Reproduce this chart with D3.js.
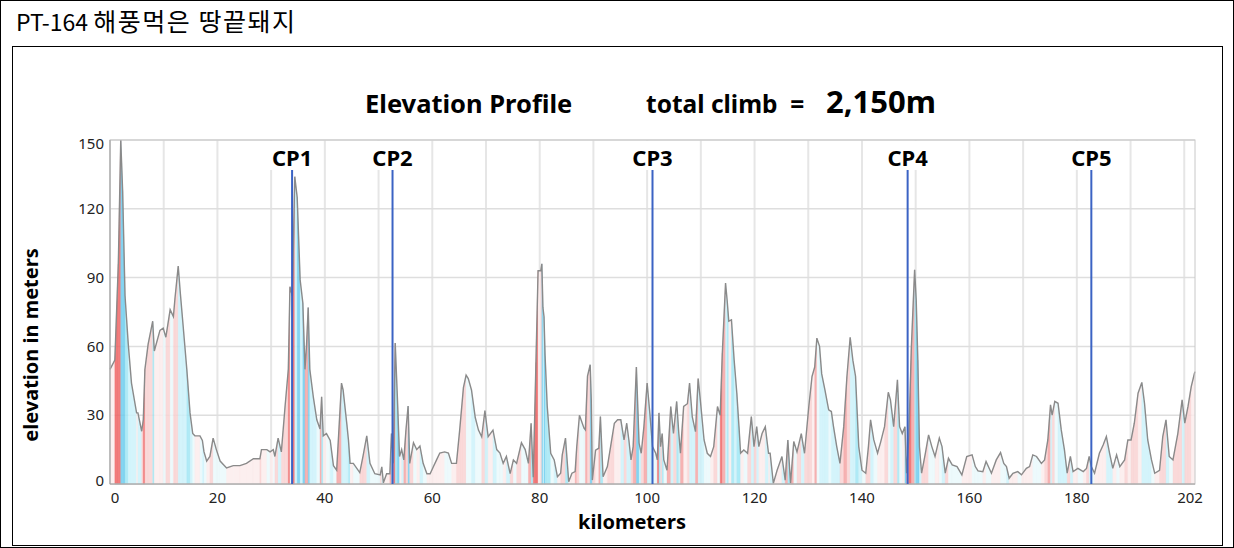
<!DOCTYPE html>
<html><head><meta charset="utf-8">
<script src="https://cdn.jsdelivr.net/npm/d3@7"></script>
<style>
body{margin:0;background:#fff;}
svg{display:block;font-family:"Noto Sans","Open Sans",sans-serif;}
</style></head><body>
<svg id="c" width="1234" height="548"></svg>
<script>
// ---- data ----
const pageTitleLatin = "PT-164 ";
const pageTitleKorean = "해풍먹은 땅끝돼지";
const chartTitle = "Elevation Profile";
const climbLabel = "total climb  =";
const climbValue = "2,150m";
const xTitle = "kilometers";
const yTitle = "elevation in meters";

const kms = [0,0.9,1.55,2.0,2.35,2.8,3.4,4.0,4.95,5.2,5.9,6.2,6.5,7.1,7.95,8.25,9.3,9.9,10.4,11.2,11.8,12.1,12.7,13.1,13.65,14.3,14.9,15.4,15.8,16.75,17.2,17.5,18.0,18.6,19.2,19.8,20.5,21.7,22.95,24.2,25.4,26.7,27.9,28.2,29.2,29.8,30.4,30.7,31.3,31.9,32.6,33.2,33.5,33.95,34.4,34.85,35.4,35.9,36.3,36.6,36.9,37.2,37.85,38.5,39.1,39.4,39.7,40.3,41.0,41.6,42.2,43.1,43.4,44.1,44.4,44.7,45.3,46.5,47.1,47.8,48.4,49.3,50.3,50.6,50.9,51.5,52.1,52.4,52.75,53.1,53.5,53.9,54.3,54.7,55.1,55.5,55.8,56.5,57.1,57.7,58.3,59.0,59.6,60.2,60.8,61.4,62.3,63.0,63.6,64.5,65.1,65.8,66.3,66.7,67.3,68.0,68.6,69.2,69.8,70.4,71.3,72.0,72.6,73.2,73.8,74.5,75.1,75.7,76.6,77.3,77.9,78.4,78.8,79.3,79.7,80.2,80.4,80.6,80.8,81.0,81.4,82.05,82.7,83.3,83.9,84.2,84.8,85.4,86.0,86.6,86.9,87.4,88.25,88.5,88.9,89.4,89.6,89.8,90.4,91.0,91.3,91.8,92.6,93.2,93.9,94.5,95.1,95.7,96.2,96.6,97.0,97.4,98.0,98.5,98.9,99.4,100.0,100.5,101.0,101.6,101.9,102.2,102.5,102.8,103.1,103.7,104.4,104.9,105.5,105.9,106.2,106.8,107.5,107.9,108.4,109.0,109.5,109.9,110.6,111.2,111.8,112.4,113.1,113.6,114.0,114.6,114.9,115.2,115.7,116.2,116.7,117.1,117.4,118.0,118.7,119.4,119.9,120.4,120.8,121.4,122.0,122.6,122.9,123.5,124.2,125.1,125.7,126.2,126.7,127.3,127.9,128.7,129.3,130.1,130.7,131.2,131.6,132.1,132.5,133.1,133.8,134.3,134.7,135.3,135.9,136.6,137.2,137.8,138.3,138.8,139.4,140.0,140.7,141.2,141.6,142.2,142.9,143.5,144.2,144.9,145.3,145.9,146.6,147.0,147.5,148.0,148.3,148.7,149.2,149.8,150.1,150.4,150.7,151.1,151.8,152.4,153.0,153.6,154.4,154.9,155.5,156.1,156.8,157.7,158.6,159.5,160.5,161.1,161.6,162.5,163.1,164.1,165.0,165.8,166.4,166.9,167.4,168.1,169.0,169.7,170.6,171.2,171.8,172.5,173.4,174.0,174.6,175.1,175.4,175.9,176.5,177.1,177.7,178.2,178.8,179.3,180.2,181.2,181.8,182.3,182.7,183.3,184.2,184.9,185.5,186.1,186.7,187.4,188.0,188.9,189.5,190.1,190.7,191.4,192.1,192.6,193.2,193.9,194.5,195.4,196.0,196.6,197.2,197.9,198.8,199.6,200.1,200.7,201.3,201.9,202.0];
const elevs = [50,54,96,150,128,82,61,44,31,31,23,28,50,61,71,58,67,68,64,76,73,81,95,83,68,50,31,22,21,21,19,14,10,12,20,15,10,7,8,8,9,11,11,15,15,14,15,12,20,14,34,50,86,82,134,125,89,79,50,61,77,50,38,28,24,38,21,22,19,8,6,44,41,26,19,9,9,5,12,21,9,4.5,4,7.5,0.5,4.5,4.5,22,9,61.5,38,12,15,10.5,23.5,34,9,18,15,16.6,9,4.5,4.5,7.5,10.5,13.5,14,13.5,9,9,23.5,42,47.5,46,41,29,23.5,20.6,32,20.6,23.5,15,13.5,9,12,4.5,10.5,9,18,15,9,26.5,3,53,93,93,96,77,73,56,34,13.4,10.5,3.2,4.7,12.7,20,1,4.7,5.4,16.3,30,24.3,23.6,47,52,36.7,1.7,14.8,15.6,29.4,3.2,7.6,16.3,26.5,28,28,19.2,26.5,19.2,10.5,16.3,51,17.8,13.4,25,44,31,16.3,13.4,10.5,31,16.3,22,10.5,6,33.8,22,36,22,13.4,33.8,35,44,29.4,22.8,46,36.7,19.2,13.4,12,16.3,33.8,30,57,87.6,80,71,71.6,54,39.6,25,13.4,14.8,13.4,29.4,16.3,25,16.3,22,25,13.4,13.4,0.3,6,12,1.7,19.2,0.3,18.5,14,22,13.4,33.8,46.9,51,63.6,60,48,41,32.3,31.6,25,16.3,9,25,46.9,64,54,47,16.3,6,4.7,16.3,28,19.2,13.4,18.5,25,40,36.7,25,45.4,25,22,25,4.7,19.2,60,93.4,80,54,16.3,4.7,13.4,21.4,16.3,12,20,16.3,4.7,11.2,8.3,7.6,4,12,12.7,7.6,5.7,5.4,9.8,4.7,10.5,13.7,9,7.6,2.5,4.7,5.4,4,6.8,7.6,12.7,12,9,10.5,19.2,34.5,30,36,35.2,23.6,14.8,4.7,12,5.4,6.8,5.4,6.8,12,7.6,4.7,13.4,17,20.7,13.4,6.8,12.7,7.6,10.5,19.2,19.2,26.5,39.6,44.3,35.2,19.2,10.5,4.7,6,20.7,28,12,10.5,22,36.7,26.5,33.8,42.5,48.3,49];

const xTicks = [0,20,40,60,80,100,120,140,160,180,202];
const yTicks = [0,30,60,90,120,150];
const xGrid = [0,10,20,30,40,50,60,70,80,90,100,110,120,130,140,150,160,170,180,190,200];
const cpNames = ["CP1","CP2","CP3","CP4","CP5"];
const cpKms = [33.9,52.6,101.0,148.5,182.7];

// ---- drawing ----
const svg = d3.select("#c");
const x = d3.scaleLinear().domain([0,202]).range([110,1195]);
const y = d3.scaleLinear().domain([0,150]).range([484,140]);
const gradeColor = d3.scaleThreshold()
  .domain([-60,-30,-10,0,10,30,60])
  .range(["#6fcdee","#a2e6f5","#cdf2fa","#eaf9fc","#fcecec","#f9d2d2","#f4a4a4","#ee6464"]);

// frames
svg.append("rect").attr("x",0.5).attr("y",0.5).attr("width",1233).attr("height",547)
  .attr("fill","#fff").attr("stroke","#000");
svg.append("rect").attr("x",12.5).attr("y",46.5).attr("width",1210).attr("height",499)
  .attr("fill","#fff").attr("stroke","#000");

const pt = svg.append("text").attr("x",16).attr("y",31)
  .style("font-family","'Noto Sans CJK KR','Noto Sans',sans-serif").attr("fill","#000")
  .attr("xml:space","preserve");
pt.append("tspan").style("font-size","23px").text(pageTitleLatin);
pt.append("tspan").style("font-size","25px").style("letter-spacing","1.5px").text(pageTitleKorean);

// titles
svg.append("text").attr("x",365).attr("y",113)
  .style("font-size","25.5px").style("font-weight","bold").text(chartTitle);
svg.append("text").attr("x",646).attr("y",113).attr("xml:space","preserve")
  .style("font-size","24.5px").style("font-weight","bold").style("white-space","pre").text(climbLabel);
svg.append("text").attr("x",826).attr("y",113)
  .style("font-size","31px").style("font-weight","bold").text(climbValue);

// grid
const grid = svg.append("g");
grid.selectAll("line.v").data(xGrid).join("line")
  .attr("x1",d=>x(d)).attr("x2",d=>x(d)).attr("y1",y(150)).attr("y2",y(0))
  .attr("stroke","#e6e6e6").attr("stroke-width",2);
grid.selectAll("line.h").data(yTicks).join("line")
  .attr("x1",x(0)).attr("x2",x(202)).attr("y1",d=>y(d)).attr("y2",d=>y(d))
  .attr("stroke","#dedede").attr("stroke-width",1.5);

// white backgrounds behind CP labels
svg.selectAll("rect.cpbg").data(cpKms).join("rect")
  .attr("x",d=>x(d)-29).attr("y",y(150)+1).attr("width",58).attr("height",29).attr("fill","#fff");

// gradient coloured fill
const pts = kms.map((k,i)=>({k, e: elevs[i]}));
const segArea = d3.area().x(d=>x(d.k)).y0(y(0)).y1(d=>y(d.e));
const segs = d3.range(pts.length-1).map(i=>[pts[i],pts[i+1]]);
const g = d=>gradeColor((d[1].e-d[0].e)/(d[1].k-d[0].k));
svg.append("g").selectAll("path").data(segs).join("path")
  .attr("d",segArea)
  .attr("fill",g).attr("fill-opacity",0.85)
  .attr("stroke",g).attr("stroke-width",0.3);

// elevation line
svg.append("path").datum(pts)
  .attr("d",d3.line().x(d=>x(d.k)).y(d=>y(d.e)))
  .attr("fill","none").attr("stroke","#8a8a8a").attr("stroke-width",1.4);

// plot frame
svg.append("rect").attr("x",x(0)).attr("y",y(150)).attr("width",x(202)-x(0)).attr("height",y(0)-y(150))
  .attr("fill","none").attr("stroke","#c8c8c8");
svg.append("line").attr("x1",x(0)).attr("x2",x(202)).attr("y1",y(0)).attr("y2",y(0)).attr("stroke","#a0a0a0");
svg.append("line").attr("x1",x(0)).attr("x2",x(0)).attr("y1",y(0)).attr("y2",y(150)).attr("stroke","#a0a0a0");

// CP lines
const cp = svg.append("g");
cp.selectAll("line").data(cpKms).join("line")
  .attr("x1",d=>x(d)).attr("x2",d=>x(d)).attr("y1",170).attr("y2",y(0))
  .attr("stroke","#3b63c4").attr("stroke-width",2);
cp.selectAll("text").data(cpKms).join("text")
  .attr("x",d=>x(d)).attr("y",166).attr("text-anchor","middle")
  .style("font-size","22px").style("font-weight","bold").attr("fill","#000")
  .text((d,i)=>cpNames[i]);

// axes labels
svg.append("g").selectAll("text").data(yTicks).join("text")
  .attr("x",104).attr("y",d=>Math.min(Math.max(y(d),144),481)).attr("dy","0.35em")
  .attr("text-anchor","end").style("font-size","15px").attr("fill","#222").text(d=>d);
svg.append("g").selectAll("text").data(xTicks).join("text")
  .attr("x",(d,i)=>x(d)+(i===0?5:(i===xTicks.length-1?-5:0))).attr("y",503)
  .attr("text-anchor","middle").style("font-size","15px").attr("fill","#222").text(d=>d);

svg.append("text").attr("x",632).attr("y",529).attr("text-anchor","middle")
  .style("font-size","20px").style("font-weight","bold").text(xTitle);
svg.append("text").attr("transform","translate(38,345) rotate(-90)").attr("text-anchor","middle")
  .style("font-size","20px").style("font-weight","bold").text(yTitle);
</script>
</body></html>
